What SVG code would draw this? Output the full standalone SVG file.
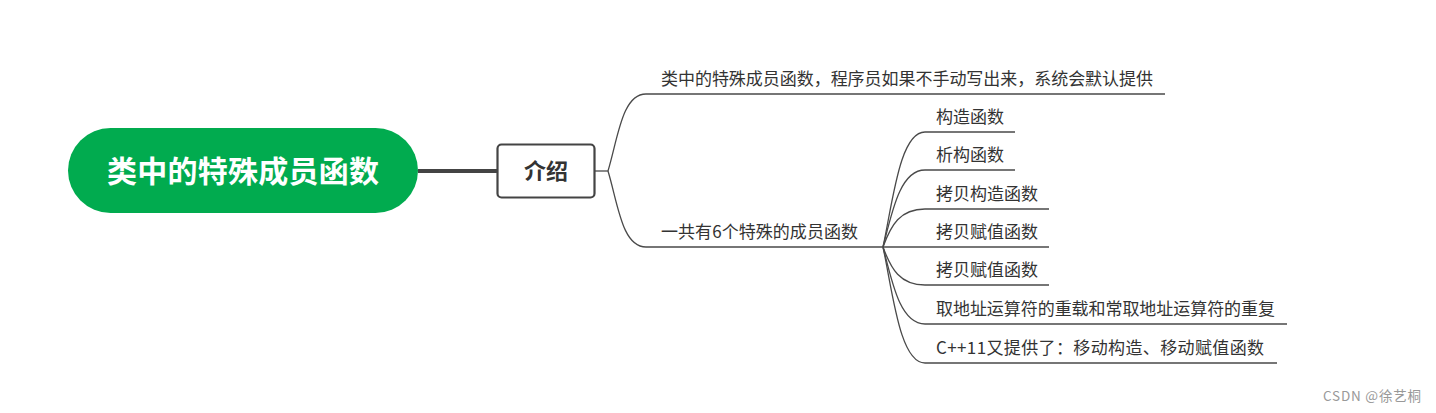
<svg xmlns="http://www.w3.org/2000/svg" width="1436" height="413" viewBox="0 0 1436 413">
<style>
.t{font-family:"Noto Sans CJK SC","Noto Sans",sans-serif;font-size:17px;fill:#333}
.ln{fill:none;stroke:#4a4a4a;stroke-width:1.3}
.root{font-family:"Noto Sans CJK SC",sans-serif;font-size:30px;font-weight:bold;fill:#fff}
.main{font-family:"Noto Sans CJK SC",sans-serif;font-size:22px;font-weight:bold;fill:#333}
</style>
<rect width="1436" height="413" fill="#fff"/>
<g id="connectors">
<line x1="418" y1="171" x2="498" y2="171" stroke="#444" stroke-width="4"/>
<path class="ln" d="M594,171 H608"/>
<path class="ln" d="M608,171 C618,138 622,94 646,94 H1165"/>
<path class="ln" d="M608,171 C618,204 622,247 646,247 H883"/>
<path class="ln" d="M883,247 C893,200 900,132 925,132 H1015"/>
<path class="ln" d="M883,247 C892,212 900,170 925,170 H1015"/>
<path class="ln" d="M883,247 C891,225 900,209 925,209 H1049"/>
<path class="ln" d="M883,247 H1049"/>
<path class="ln" d="M883,247 C891,269 900,285 925,285 H1049"/>
<path class="ln" d="M883,247 C892,282 900,324 925,324 H1287"/>
<path class="ln" d="M883,247 C893,294 900,363 925,363 H1277"/>
</g>
<g id="root">
<rect x="68" y="128" width="350" height="85" rx="42.5" fill="#01AB4F"/>
<text class="root" x="243" y="182" text-anchor="middle" textLength="272">类中的特殊成员函数</text>
</g>
<g id="intro">
<rect x="497.5" y="144.5" width="97" height="53" rx="4" fill="#fff" stroke="#444" stroke-width="2.2"/>
<text class="main" x="546" y="179" text-anchor="middle">介绍</text>
</g>
<g id="b1"><text class="t" x="661" y="85" textLength="492">类中的特殊成员函数，程序员如果不手动写出来，系统会默认提供</text></g>
<g id="b2"><text class="t" x="661" y="238" textLength="197">一共有6个特殊的成员函数</text></g>
<g id="c1"><text class="t" x="936" y="123">构造函数</text></g>
<g id="c2"><text class="t" x="936" y="161">析构函数</text></g>
<g id="c3"><text class="t" x="936" y="200">拷贝构造函数</text></g>
<g id="c4"><text class="t" x="936" y="238">拷贝赋值函数</text></g>
<g id="c5"><text class="t" x="936" y="276">拷贝赋值函数</text></g>
<g id="c6"><text class="t" x="936" y="315" textLength="339">取地址运算符的重载和常取地址运算符的重复</text></g>
<g id="c7"><text class="t" x="936" y="354" textLength="328">C++11又提供了：移动构造、移动赋值函数</text></g>
<text x="1323" y="401" font-family="Noto Sans CJK SC,sans-serif" font-size="13.5" fill="#999" textLength="98">CSDN @徐艺桐</text>
</svg>
